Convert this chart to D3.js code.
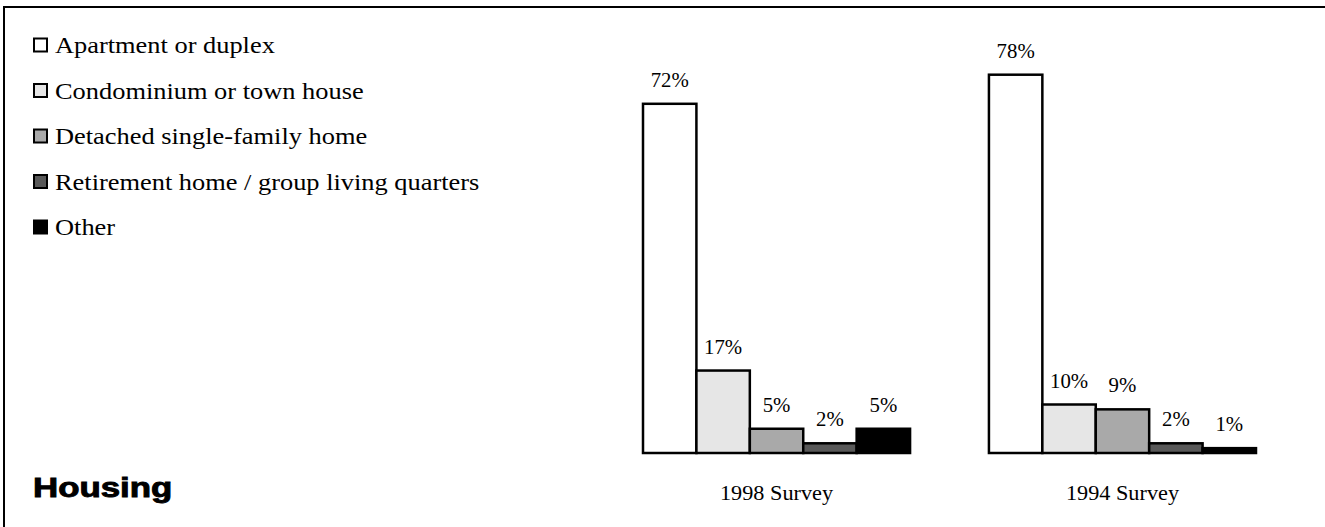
<!DOCTYPE html>
<html>
<head>
<meta charset="utf-8">
<script src="https://cdn.jsdelivr.net/npm/d3@7"></script>
<style>
  html, body { margin: 0; padding: 0; background: #fff; }
  svg { display: block; }
</style>
</head>
<body>
<svg id="chart" width="1325" height="527"></svg>
<script>
// ---- data ----
const surveys = ["1998 Survey", "1994 Survey"];
const housingTypes = [
  "Apartment or duplex",
  "Condominium or town house",
  "Detached single-family home",
  "Retirement home / group living quarters",
  "Other"
];
const values1998 = [72, 17, 5, 2, 5];
const values1994 = [78, 10, 9, 2, 1];
const typeColors = ["#ffffff", "#e6e6e6", "#a9a9a9", "#595959", "#000000"];
const chartTitle = "Housing";

const seriesBySurvey = { "1998 Survey": values1998, "1994 Survey": values1994 };

const svg = d3.select("#chart");
const serif = "'Liberation Serif', 'Times New Roman', serif";

// frame (top and left lines)
svg.append("path")
  .attr("d", "M4,527 L4,7 L1325,7")
  .attr("fill", "none").attr("stroke", "#000").attr("stroke-width", 2);

// scales
const x0 = d3.scaleBand().domain(surveys).range([643, 1256]).paddingInner(0.228).paddingOuter(0);
const x1 = d3.scaleBand().domain(housingTypes).range([0, x0.bandwidth()]).padding(0);
const y = d3.scaleLinear().domain([0, 80]).range([453, 453 - 388]);
const color = d3.scaleOrdinal().domain(housingTypes).range(typeColors);

const groups = svg.selectAll("g.survey").data(surveys).join("g")
  .attr("class", "survey")
  .attr("transform", d => `translate(${x0(d)},0)`);

const cells = groups.selectAll("g.bar")
  .data(s => seriesBySurvey[s].map((v, i) => ({ type: housingTypes[i], value: v })))
  .join("g").attr("class", "bar");

cells.append("rect")
  .attr("x", d => x1(d.type))
  .attr("y", d => y(d.value))
  .attr("width", x1.bandwidth())
  .attr("height", d => y(0) - y(d.value))
  .attr("fill", d => color(d.type))
  .attr("stroke", "#000")
  .attr("stroke-width", 2.5);

cells.append("text")
  .attr("transform", d => `translate(${x1(d.type) + x1.bandwidth() / 2},${y(d.value) - 17}) scale(1.04,1)`)
  .attr("text-anchor", "middle")
  .attr("font-family", serif)
  .attr("font-size", 20)
  .attr("fill", "#000")
  .text(d => d.value + "%");

// category axis labels
groups.append("text")
  .attr("transform", `translate(${x0.bandwidth() / 2},500) scale(1.06,1)`)
  .attr("text-anchor", "middle")
  .attr("font-family", serif)
  .attr("font-size", 21)
  .attr("fill", "#000")
  .text(d => d);

// legend
const legendY = d3.scalePoint().domain(housingTypes).range([45, 227]);
const leg = svg.selectAll("g.legend").data(housingTypes).join("g")
  .attr("class", "legend")
  .attr("transform", d => `translate(33,${legendY(d)})`);
leg.append("rect")
  .attr("x", 1).attr("y", -6.5)
  .attr("width", 13).attr("height", 13)
  .attr("fill", d => color(d))
  .attr("stroke", "#000").attr("stroke-width", 2);
leg.append("text")
  .attr("transform", "translate(22,8) scale(1.1,1)")
  .attr("font-family", serif)
  .attr("font-size", 24)
  .attr("fill", "#000")
  .text(d => d);

// title
svg.append("text")
  .attr("transform", "translate(33,497) scale(1.29,1)")
  .attr("font-family", "'Liberation Sans', Arial, sans-serif")
  .attr("font-weight", "bold")
  .attr("font-size", 27)
  .attr("fill", "#000")
  .attr("stroke", "#000")
  .attr("stroke-width", 0.9)
  .text(chartTitle);
</script>
</body>
</html>
